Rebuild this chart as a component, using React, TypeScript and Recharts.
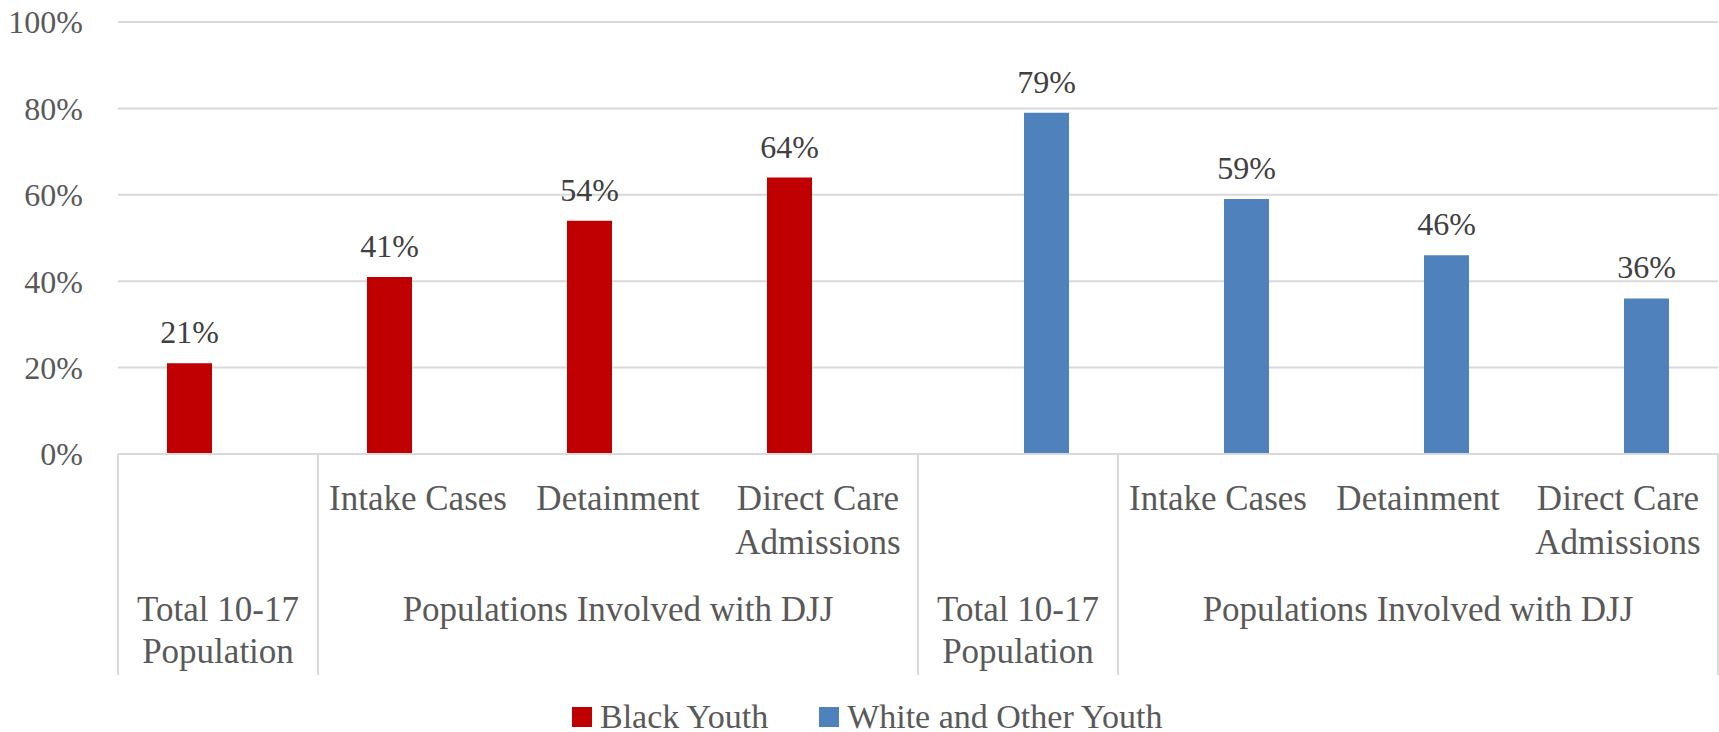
import React from 'react';
import { BarChart, Bar, XAxis, YAxis, CartesianGrid, Legend, LabelList } from 'recharts';

// inner level of the category axis (blank where the outer label stands alone)
const subCategories = [
  '',
  'Intake Cases',
  'Detainment',
  'Direct Care\nAdmissions',
  '',
  'Intake Cases',
  'Detainment',
  'Direct Care\nAdmissions',
];
// outer level and how many categories each one spans
const groupLabels = [
  'Total 10-17\nPopulation',
  'Populations Involved with DJJ',
  'Total 10-17\nPopulation',
  'Populations Involved with DJJ',
];
const groupSizes = [1, 3, 1, 3];

const blackYouth = [21, 41, 54, 64, null, null, null, null];
const whiteOtherYouth = [null, null, null, null, 79, 59, 46, 36];
const yTicks = [0, 20, 40, 60, 80, 100];

const WIDTH = 1719;
const HEIGHT = 732;
const Y_AXIS_WIDTH = 118;
const RIGHT_MARGIN = 1;
const BAND = (WIDTH - Y_AXIS_WIDTH - RIGHT_MARGIN) / subCategories.length;

const FONT = "'Liberation Serif', 'Times New Roman', serif";
const AXIS_GREY = '#595959';
const LABEL_GREY = '#404040';
const LINE_GREY = '#D9D9D9';
const RED = '#C00000';
const BLUE = '#4F81BD';

const chartData = subCategories.map((sub, i) => ({
  id: i,
  sub,
  black: blackYouth[i],
  white: whiteOtherYouth[i],
}));

// first category index of every outer group
const groupStarts = groupSizes.map((_, g) => groupSizes.slice(0, g).reduce((a, b) => a + b, 0));

// multi-line svg text, y is the first baseline
const Lines = ({ x, y, text, lineHeight }: { x: number; y: number; text: string; lineHeight: number }) => (
  <text x={x} y={y} textAnchor="middle" fill={AXIS_GREY} fontFamily={FONT} fontSize={35}>
    {text.split('\n').map((line, i) => (
      <tspan key={i} x={x} dy={i === 0 ? 0 : lineHeight}>
        {line}
      </tspan>
    ))}
  </text>
);

const CategoryTick = (props: any) => {
  const { x, y, index } = props;
  const band = props.payload?.offset ? props.payload.offset * 2 : BAND;
  const g = groupStarts.indexOf(index);
  const last = index === subCategories.length - 1;

  return (
    <g>
      {subCategories[index] && <Lines x={x} y={y + 56} text={subCategories[index]} lineHeight={44} />}
      {g >= 0 && (
        <>
          <line x1={x - band / 2} x2={x - band / 2} y1={y} y2={y + 221} stroke={LINE_GREY} strokeWidth={2} />
          <Lines x={x + ((groupSizes[g] - 1) * band) / 2} y={y + 167} text={groupLabels[g]} lineHeight={42} />
        </>
      )}
      {last && (
        <line x1={x + band / 2} x2={x + band / 2} y1={y} y2={y + 221} stroke={LINE_GREY} strokeWidth={2} />
      )}
    </g>
  );
};

const LegendContent = (props: any) => {
  const items = props.payload || [];
  return (
    <div
      style={{
        display: 'flex',
        alignItems: 'center',
        fontFamily: FONT,
        fontSize: 34,
        lineHeight: '36px',
        color: AXIS_GREY,
        whiteSpace: 'nowrap',
      }}
    >
      {items.map((item: any, i: number) => (
        <span key={item.value} style={{ display: 'inline-flex', alignItems: 'center', marginLeft: i ? 51 : 0 }}>
          <span style={{ width: 20, height: 20, background: item.color, marginRight: 8 }} />
          {item.value}
        </span>
      ))}
    </div>
  );
};

const pct = (v: any) => (v == null ? '' : `${v}%`);

export default function App() {
  return (
    <div style={{ position: 'absolute', left: 0, top: 0, width: WIDTH, height: HEIGHT, background: '#fff' }}>
      <BarChart
        width={WIDTH}
        height={HEIGHT}
        data={chartData}
        margin={{ top: 22, right: RIGHT_MARGIN, bottom: 0, left: 0 }}
        barCategoryGap={49}
        barGap={12}
      >
        <CartesianGrid vertical={false} stroke={LINE_GREY} strokeWidth={2} />
        <XAxis
          dataKey="id"
          height={278}
          interval={0}
          tickLine={false}
          tickSize={0}
          tickMargin={0}
          axisLine={{ stroke: LINE_GREY, strokeWidth: 2 }}
          tick={<CategoryTick />}
        />
        <YAxis
          width={Y_AXIS_WIDTH}
          domain={[0, 100]}
          ticks={yTicks}
          tickFormatter={(v) => `${v}%`}
          axisLine={false}
          tickLine={false}
          tickSize={0}
          tickMargin={35}
          tick={{ fill: AXIS_GREY, fontSize: 32, fontFamily: FONT }}
        />
        <Legend
          layout="horizontal"
          verticalAlign="middle"
          align="center"
          wrapperStyle={{ top: 699, left: 572, width: 'auto', height: 36 }}
          content={<LegendContent />}
        />
        <Bar dataKey="black" name="Black Youth" fill={RED} isAnimationActive={false}>
          <LabelList
            dataKey="black"
            position="top"
            offset={20}
            formatter={pct}
            fill={LABEL_GREY}
            fontSize={32}
            fontFamily={FONT}
          />
        </Bar>
        <Bar dataKey="white" name="White and Other Youth" fill={BLUE} isAnimationActive={false}>
          <LabelList
            dataKey="white"
            position="top"
            offset={20}
            formatter={pct}
            fill={LABEL_GREY}
            fontSize={32}
            fontFamily={FONT}
          />
        </Bar>
      </BarChart>
    </div>
  );
}
